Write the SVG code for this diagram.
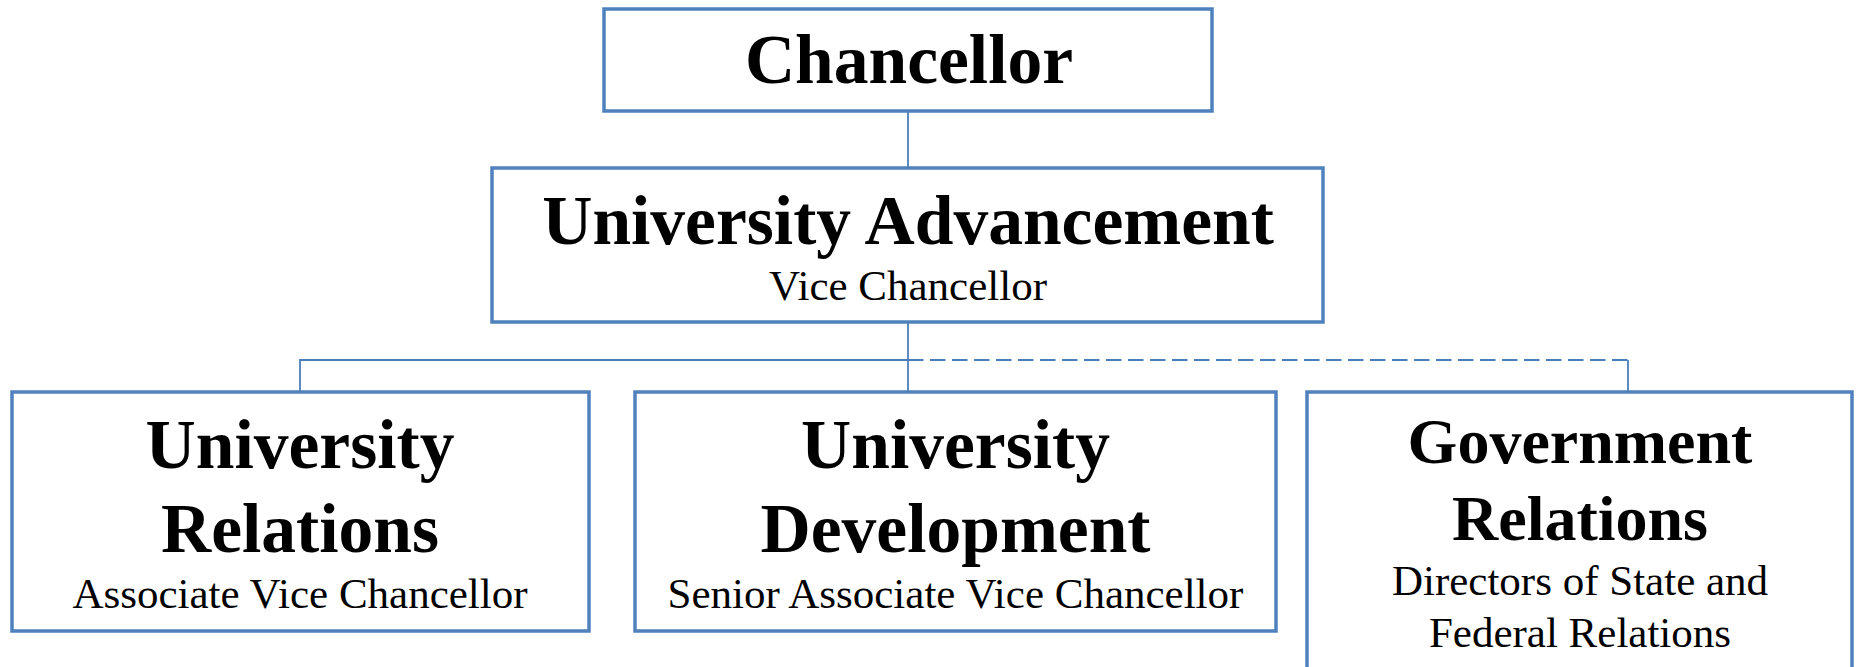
<svg xmlns="http://www.w3.org/2000/svg" width="1856" height="667" viewBox="0 0 1856 667">
<style>
.box{fill:#fff;stroke:#4F81BD;stroke-width:3.5}
.con{fill:none;stroke:#4A7EBB;stroke-width:1.8}
.dash{stroke-dasharray:15.5 6.5}
.t{font-family:"Liberation Serif","Times New Roman",serif;font-weight:bold;font-size:69.5px;fill:#000;text-anchor:middle}
.g{font-size:64px}
.s{font-family:"Liberation Serif","Times New Roman",serif;font-size:43px;fill:#000;text-anchor:middle}
</style>
<rect width="1856" height="667" fill="#fff"/>
<g id="connectors">
<path class="con" d="M908 111V168"/>
<path class="con" d="M908 322V392"/>
<path class="con" d="M300 392V360H908"/>
<path class="con dash" d="M908 360H1628"/>
<path class="con" d="M1628 360V392"/>
</g>
<g id="chancellor">
<rect class="box" x="604" y="9" width="608" height="102"/>
<text class="t" x="909" y="83">Chancellor</text>
</g>
<g id="advancement">
<rect class="box" x="492" y="168" width="831" height="154"/>
<text class="t" x="908" y="244">University Advancement</text>
<text class="s" x="908" y="300">Vice Chancellor</text>
</g>
<g id="relations">
<rect class="box" x="12" y="392" width="577" height="239"/>
<text class="t" x="300" y="468">University</text>
<text class="t" x="300" y="552">Relations</text>
<text class="s" x="300" y="608">Associate Vice Chancellor</text>
</g>
<g id="development">
<rect class="box" x="635" y="392" width="641" height="239"/>
<text class="t" x="955.5" y="468">University</text>
<text class="t" x="955.5" y="552">Development</text>
<text class="s" x="955.5" y="608">Senior Associate Vice Chancellor</text>
</g>
<g id="government">
<rect class="box" x="1307" y="392" width="545" height="300"/>
<text class="t g" x="1580" y="463">Government</text>
<text class="t g" x="1580" y="540">Relations</text>
<text class="s" x="1580" y="595">Directors of State and</text>
<text class="s" x="1580" y="647">Federal Relations</text>
</g>
</svg>
